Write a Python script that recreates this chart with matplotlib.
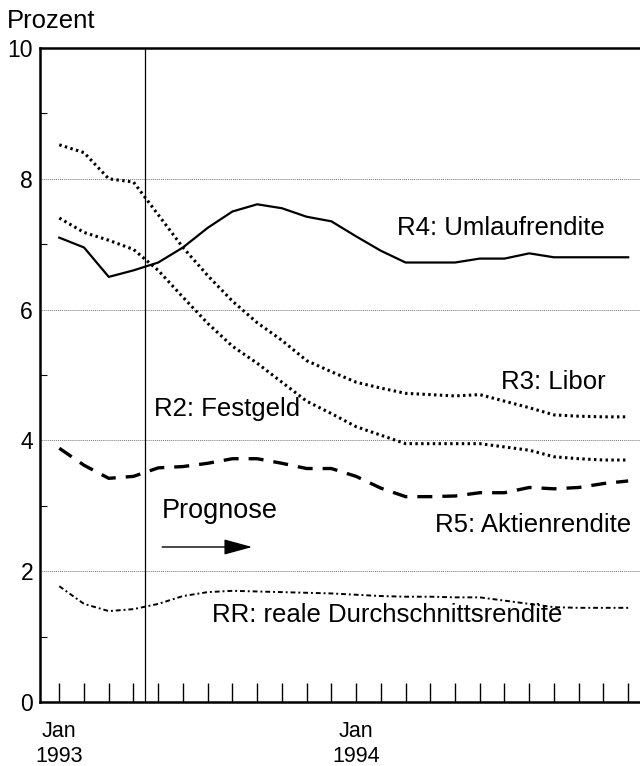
import numpy as np
import matplotlib
matplotlib.use('Agg')
import matplotlib.pyplot as plt

plt.rcParams.update({
    'font.family': ['Liberation Sans', 'DejaVu Sans'],
    'font.size': 16,
})

# months since Jan 1993 (0 .. 23 = Dec 1994)
months = np.arange(24)

r4_umlauf = [7.10, 6.95, 6.50, 6.60, 6.72, 6.95, 7.25, 7.50, 7.61, 7.55, 7.42, 7.35,
             7.12, 6.90, 6.72, 6.72, 6.72, 6.78, 6.78, 6.86, 6.80, 6.80, 6.80, 6.80]
r3_libor = [8.52, 8.40, 8.00, 7.95, 7.45, 6.95, 6.52, 6.13, 5.80, 5.53, 5.22, 5.05,
            4.89, 4.80, 4.72, 4.70, 4.68, 4.70, 4.60, 4.50, 4.39, 4.37, 4.36, 4.36]
r2_festgeld = [7.40, 7.18, 7.06, 6.92, 6.60, 6.19, 5.79, 5.44, 5.18, 4.89, 4.60, 4.41,
               4.21, 4.08, 3.95, 3.95, 3.95, 3.95, 3.90, 3.85, 3.75, 3.72, 3.70, 3.70]
r5_aktien = [3.88, 3.62, 3.42, 3.45, 3.58, 3.60, 3.65, 3.72, 3.72, 3.65, 3.57, 3.57,
             3.45, 3.27, 3.14, 3.14, 3.15, 3.20, 3.20, 3.28, 3.26, 3.28, 3.34, 3.38]
rr_real = [1.77, 1.50, 1.39, 1.42, 1.50, 1.62, 1.68, 1.70, 1.69, 1.68, 1.67, 1.66,
           1.64, 1.62, 1.61, 1.61, 1.60, 1.60, 1.55, 1.50, 1.45, 1.44, 1.44, 1.44]

prognose_start = 3.45
jan_ticks = [0, 12]
jan_labels = ['Jan\n1993', 'Jan\n1994']

fig = plt.figure(figsize=(6.4, 7.66), dpi=100)
ax = fig.add_axes([40 / 640, 1 - 702 / 766, 603 / 640, 654 / 766])

ax.plot(months, r4_umlauf, '-', color='black', lw=1.6)
ax.plot(months, r3_libor, color='black', lw=2.2, linestyle=(0, (0.8, 1.1)))
ax.plot(months, r2_festgeld, color='black', lw=2.2, linestyle=(0, (0.8, 1.1)))
ax.plot(months, r5_aktien, color='black', lw=2.4, linestyle=(0, (4.5, 3.0)))
ax.plot(months, rr_real, color='black', lw=1.4, linestyle=(0, (2.5, 1.5, 1, 1.5)))

ax.axvline(prognose_start, color='black', lw=0.9)

ax.set_xlim(-0.78, 23.6)
ax.set_ylim(0, 10)
ax.set_yticks([0, 2, 4, 6, 8, 10])
ax.set_yticks([1, 3, 5, 7, 9], minor=True)
ax.set_xticks(months)
ax.set_xticklabels([jan_labels[jan_ticks.index(m)] if m in jan_ticks else '' for m in months])
ax.tick_params(axis='x', direction='in', length=14, width=1.0, pad=14, labelsize=15.5)
ax.tick_params(axis='y', which='major', direction='in', length=0, pad=5, labelsize=16.5)
ax.tick_params(axis='y', which='minor', direction='in', length=5, width=0.8)

ax.grid(axis='y', which='major', linestyle=(0, (1, 1)), color='#777777', lw=0.7)
for s in ['left', 'bottom', 'top']:
    ax.spines[s].set_linewidth(1.8)
ax.spines['right'].set_visible(False)

ax.text(13.67, 7.25, 'R4: Umlaufrendite', fontsize=18.5, va='center', ha='left')
ax.text(17.84, 4.90, 'R3: Libor', fontsize=18.5, va='center', ha='left')
ax.text(3.83, 4.48, 'R2: Festgeld', fontsize=18.5, va='center', ha='left')
ax.text(15.2, 2.71, 'R5: Aktienrendite', fontsize=18.5, va='center', ha='left')
ax.text(6.19, 1.33, 'RR: reale Durchschnittsrendite', fontsize=18.5, va='center', ha='left')
ax.text(4.16, 2.92, 'Prognose', fontsize=19.5, va='center', ha='left')
ax.annotate('', xy=(7.8, 2.37), xytext=(4.16, 2.37),
            arrowprops=dict(arrowstyle='-|>,head_length=1.1,head_width=0.3',
                            color='black', lw=1.0, shrinkA=0, shrinkB=0))

fig.text(7 / 640, 1 - 28 / 766, 'Prozent', fontsize=18.5, va='baseline', ha='left')

fig.savefig('out.png', dpi=100)
